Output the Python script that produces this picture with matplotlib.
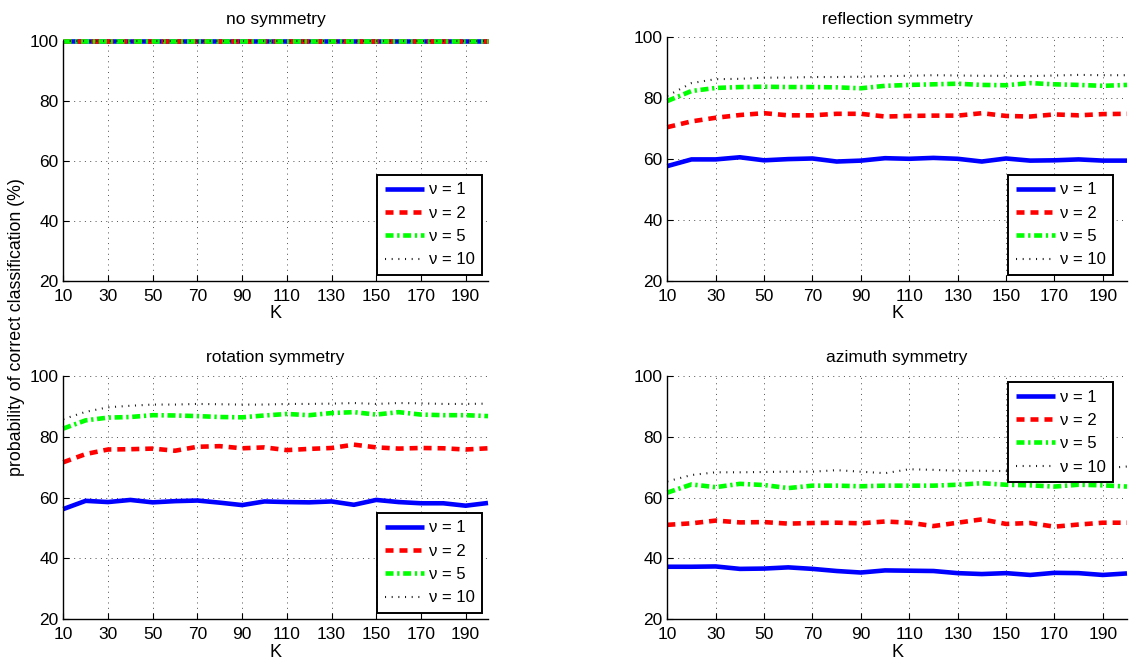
import matplotlib
matplotlib.use("Agg")
import matplotlib.pyplot as plt

plt.rcParams['font.family'] = ['Liberation Sans', 'DejaVu Sans']

K = [10, 20, 30, 40, 50, 60, 70, 80, 90, 100,
     110, 120, 130, 140, 150, 160, 170, 180, 190, 200]

# no symmetry
none_v1 = [100] * 20
none_v2 = [100] * 20
none_v5 = [100] * 20
none_v10 = [100] * 20

# reflection symmetry
refl_v1 = [57.7, 59.9, 59.9, 60.6, 59.6, 60.0, 60.2, 59.2, 59.5, 60.3,
           60.1, 60.4, 60.1, 59.2, 60.2, 59.5, 59.6, 59.9, 59.5, 59.5]
refl_v2 = [70.5, 72.4, 73.6, 74.5, 75.1, 74.4, 74.4, 74.9, 74.9, 74.0,
           74.2, 74.3, 74.3, 75.1, 74.2, 74.0, 74.7, 74.4, 74.8, 74.9]
refl_v5 = [79.1, 82.4, 83.4, 83.7, 83.8, 83.7, 83.7, 83.6, 83.3, 84.1,
           84.4, 84.6, 84.8, 84.4, 84.3, 85.0, 84.6, 84.4, 84.1, 84.4]
refl_v10 = [80.8, 85.0, 86.3, 86.4, 86.8, 86.8, 87.0, 87.0, 87.1, 87.3,
            87.4, 87.6, 87.5, 87.4, 87.4, 87.3, 87.5, 87.7, 87.6, 87.6]

# rotation symmetry
rot_v1 = [56.2, 58.9, 58.5, 59.2, 58.4, 58.8, 59.0, 58.3, 57.5, 58.7,
          58.5, 58.4, 58.7, 57.6, 59.2, 58.5, 58.1, 58.1, 57.3, 58.2]
rot_v2 = [71.6, 74.3, 75.8, 75.9, 76.1, 75.4, 76.7, 76.9, 76.2, 76.5,
          75.6, 76.0, 76.3, 77.4, 76.5, 76.1, 76.3, 76.2, 75.8, 76.2]
rot_v5 = [82.7, 85.4, 86.3, 86.5, 87.1, 87.0, 86.8, 86.5, 86.4, 87.0,
          87.5, 87.1, 87.8, 88.1, 87.3, 88.1, 87.3, 87.1, 87.1, 86.8]
rot_v10 = [85.8, 88.2, 89.7, 90.2, 90.6, 90.6, 90.8, 90.7, 90.6, 90.6,
           90.8, 90.8, 90.9, 91.1, 90.8, 91.1, 91.0, 90.8, 90.8, 90.9]

# azimuth symmetry
azi_v1 = [37.2, 37.2, 37.3, 36.5, 36.6, 37.0, 36.5, 35.8, 35.3, 36.0,
          35.9, 35.8, 35.1, 34.8, 35.1, 34.5, 35.2, 35.1, 34.5, 35.0]
azi_v2 = [51.0, 51.5, 52.4, 51.8, 51.9, 51.4, 51.6, 51.7, 51.5, 52.1,
          51.7, 50.6, 51.7, 52.8, 51.3, 51.6, 50.4, 51.1, 51.7, 51.7]
azi_v5 = [61.6, 64.3, 63.4, 64.5, 64.1, 63.1, 63.9, 63.9, 63.7, 63.9,
          63.9, 63.9, 64.2, 64.7, 64.2, 64.0, 63.6, 64.2, 64.0, 63.6]
azi_v10 = [65.3, 67.4, 68.3, 68.3, 68.4, 68.5, 68.5, 69.0, 68.5, 68.0,
           69.3, 69.1, 68.8, 68.8, 68.7, 69.0, 69.2, 69.4, 69.6, 70.2]

nu_labels = ['ν = 1', 'ν = 2', 'ν = 5', 'ν = 10']
titles = ['no symmetry', 'reflection symmetry', 'rotation symmetry', 'azimuth symmetry']
panels = [
    (none_v1, none_v2, none_v5, none_v10),
    (refl_v1, refl_v2, refl_v5, refl_v10),
    (rot_v1, rot_v2, rot_v5, rot_v10),
    (azi_v1, azi_v2, azi_v5, azi_v10),
]

xticks = list(range(10, 200, 20))
yticks = [20, 40, 60, 80, 100]

W, H = 1130, 661
fig = plt.figure(figsize=(W / 100, H / 100), dpi=100)

# axes boxes in pixels: (left, top, right, bottom)
boxes = [
    (63.3, 41.0, 488.0, 280.7),
    (667.3, 37.5, 1127.0, 280.7),
    (63.3, 376.0, 488.0, 619.0),
    (667.3, 376.0, 1127.0, 619.0),
]
title_pads = [12.2, 9.8, 9.8, 9.8]
legend_anchor = [
    ('lower right', (0.986, 0.024)),
    ('lower right', (0.9695, 0.024)),
    ('lower right', (0.986, 0.025)),
    ('upper right', (0.9695, 0.975)),
]

styles = [
    dict(color=(0, 0, 1), lw=3.3, linestyle='-'),
    dict(color=(1, 0, 0), lw=3.3, linestyle=(0, (1.75, 1.3))),
    dict(color=(0, 1, 0), lw=3.3, linestyle=(0, (1.75, 0.8, 0.5, 0.8))),
    dict(color=(0.1, 0.1, 0.1), lw=1.5, linestyle=(0, (0.5, 2.7))),
]

for i, (box, data, title) in enumerate(zip(boxes, panels, titles)):
    l, t, r, b = box
    ax = fig.add_axes([l / W, 1 - b / H, (r - l) / W, (b - t) / H])
    for series, st, lab in zip(data, styles, nu_labels):
        ax.plot(K, series, label=lab, clip_on=False, solid_capstyle='butt',
                dash_capstyle='butt', **st)
    ax.set_xlim(10, 200)
    ax.set_ylim(20, 100)
    ax.set_xticks(xticks)
    ax.set_yticks(yticks)
    ax.grid(True, linestyle=(0, (1, 4.5)), color='0.3', lw=0.7)
    ax.set_axisbelow(True)
    for side in ('top', 'right'):
        ax.spines[side].set_visible(False)
    for side in ('left', 'bottom'):
        ax.spines[side].set_linewidth(1.0)
    ax.tick_params(direction='in', length=4, width=0.8, labelsize=12.5)
    ax.tick_params(axis='x', pad=6)
    ax.tick_params(axis='y', pad=3.5)
    ax.set_title(title, fontsize=12.5, pad=title_pads[i])
    ax.set_xlabel('K', fontsize=13, labelpad=1)
    loc, anchor = legend_anchor[i]
    leg = ax.legend(loc=loc, bbox_to_anchor=anchor, borderaxespad=0,
                    fontsize=12, handlelength=2.34, handletextpad=0.3,
                    labelspacing=0.5, borderpad=0.45, fancybox=False,
                    framealpha=1, edgecolor='black')
    leg.get_frame().set_linewidth(1.4)

fig.text(17 / W, 1 - 327 / H, 'probability of correct classification (%)',
         rotation=90, ha='center', va='center', fontsize=12.8)

fig.savefig('out.png', dpi=100)
